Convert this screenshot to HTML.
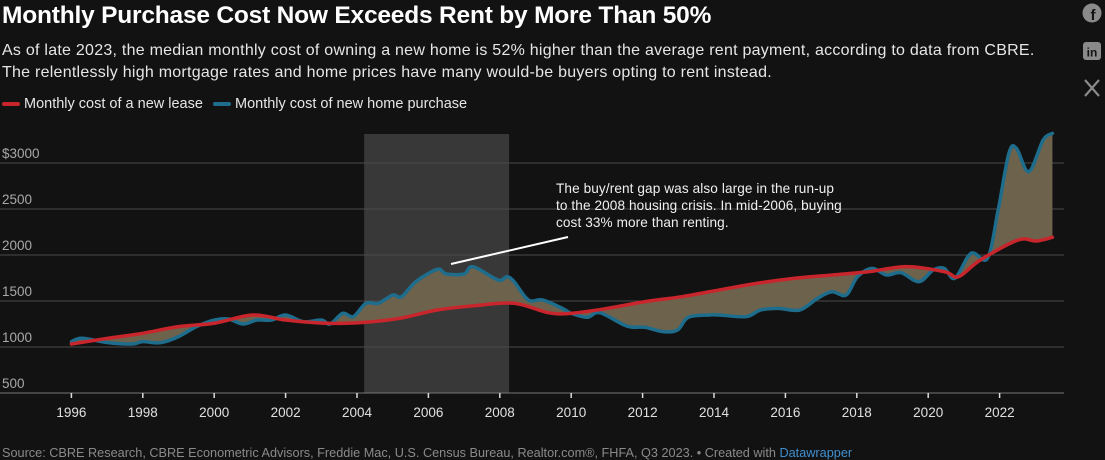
<!DOCTYPE html>
<html><head><meta charset="utf-8"><style>
body{margin:0;background:#121212;width:1105px;height:460px;overflow:hidden;font-family:"Liberation Sans",sans-serif;color:#fff;position:relative}
.t{position:absolute;white-space:nowrap}
</style></head><body>
<div class="t" style="left:2px;top:2px;font-size:24.5px;font-weight:bold;letter-spacing:-0.2px">Monthly Purchase Cost Now Exceeds Rent by More Than 50%</div>
<div class="t" style="left:2px;top:40px;font-size:16px;letter-spacing:0.25px;line-height:22px;color:#e6e6e6">As of late 2023, the median monthly cost of owning a new home is 52% higher than the average rent payment, according to data from CBRE.<br>The relentlessly high mortgage rates and home prices have many would-be buyers opting to rent instead.</div>
<div class="t" style="left:2px;top:96px;font-size:14.5px;color:#e6e6e6"><span style="display:inline-block;width:18px;height:4px;background:#c8262c;border-radius:2px;vertical-align:middle;margin-right:4px"></span>Monthly cost of a new lease</div>
<div class="t" style="left:213px;top:96px;font-size:14.5px;color:#e6e6e6"><span style="display:inline-block;width:18px;height:4px;background:#1f6d8c;border-radius:2px;vertical-align:middle;margin-right:4px"></span>Monthly cost of new home purchase</div>
<svg style="position:absolute;left:1082px;top:3px" width="20" height="20"><circle cx="10" cy="10" r="9.5" fill="#8a8a8a"/><text x="11" y="17" font-size="15" font-weight="bold" fill="#121212" text-anchor="middle" font-family="Liberation Sans">f</text></svg>
<svg style="position:absolute;left:1082px;top:41px" width="20" height="20"><rect x="1" y="1" width="18" height="18" rx="3" fill="#8a8a8a"/><text x="10" y="15.5" font-size="12" font-weight="bold" fill="#121212" text-anchor="middle" font-family="Liberation Sans">in</text></svg>
<svg style="position:absolute;left:1082px;top:78px" width="20" height="20"><path d="M3 2 L17 18 M17 2 L3 18" stroke="#8a8a8a" stroke-width="2.2"/></svg>
<svg id="chart" style="position:absolute;left:0;top:0" width="1105" height="460"></svg>
<div class="t" style="left:556px;top:180px;font-size:13.6px;letter-spacing:0.1px;line-height:17px;color:#f0f0f0">The buy/rent gap was also large in the run-up<br>to the 2008 housing crisis. In mid-2006, buying<br>cost 33% more than renting.</div>
<div class="t" style="left:2px;top:446px;font-size:12.7px;color:#8a8a8a">Source: CBRE Research, CBRE Econometric Advisors, Freddie Mac, U.S. Census Bureau, Realtor.com®, FHFA, Q3 2023. • Created with <span style="color:#3f8fd0">Datawrapper</span></div>
<script>
const yTicks=[500,1000,1500,2000,2500,3000];
const yTickLabels=["500","1000","1500","2000","2500","$3000"];
const xTicks=[1996,1998,2000,2002,2004,2006,2008,2010,2012,2014,2016,2018,2020,2022];
const leaseYears=[1996,1997.03,1998,1999,2000,2001.08,2002,2003.15,2004.19,2005.2,2006.25,2007.3,2008.4,2009.36,2010,2011.02,2012.07,2013.1,2014.15,2015.2,2016.27,2017.32,2018.35,2019.39,2020.45,2020.85,2021.46,2022.52,2023.02,2023.48];
const leaseValues=[1033,1095,1149,1221,1258,1348,1293,1258,1268,1312,1402,1449,1475,1373,1366,1420,1493,1547,1620,1692,1747,1783,1819,1873,1819,1764,1946,2163,2152,2192];
const buyYears=[1996,1996.3,1997.03,1997.7,1998,1998.5,1999,1999.5,2000,2000.4,2000.8,2001.2,2001.6,2002,2002.5,2003,2003.25,2003.6,2003.9,2004.25,2004.6,2005,2005.25,2005.65,2006.25,2006.5,2007,2007.25,2007.95,2008.2,2008.4,2008.8,2009.2,2009.75,2010,2010.45,2010.8,2011.56,2012.07,2012.57,2012.98,2013.28,2013.89,2014.15,2014.9,2015.3,2015.8,2016.4,2016.9,2017.3,2017.7,2018.02,2018.43,2018.83,2019.24,2019.74,2020.14,2020.45,2020.75,2021.2,2021.66,2021.96,2022.26,2022.47,2022.82,2023.22,2023.48];
const buyValues=[1058,1095,1047,1033,1058,1047,1113,1221,1293,1304,1250,1293,1293,1348,1275,1293,1250,1366,1330,1475,1475,1565,1547,1710,1844,1794,1794,1873,1728,1764,1710,1511,1511,1420,1366,1323,1373,1228,1214,1167,1185,1323,1348,1348,1330,1402,1420,1402,1529,1600,1565,1764,1855,1783,1808,1710,1837,1855,1747,2018,1964,2489,3105,3160,2906,3250,3322];
const shadeRange=[2004.2,2008.26];
const X=y=>71.4+(y-1996)*35.7;
const Y=v=>393-(v-500)/500*46;
const NS="http://www.w3.org/2000/svg";
const svg=document.getElementById('chart');
function mk(t,a){const e=document.createElementNS(NS,t);for(const k in a)e.setAttribute(k,a[k]);svg.appendChild(e);return e;}
function curve(xs,vs,rev){let p=xs.map((x,i)=>[X(x),Y(vs[i])]);if(rev)p=p.reverse();
 let d=(rev?'L':'M')+p[0][0]+','+p[0][1];
 for(let i=0;i<p.length-1;i++){const p0=p[i-1]||p[i],p1=p[i],p2=p[i+1],p3=p[i+2]||p2;
  d+=` C${p1[0]+(p2[0]-p0[0])/6},${p1[1]+(p2[1]-p0[1])/6} ${p2[0]-(p3[0]-p1[0])/6},${p2[1]-(p3[1]-p1[1])/6} ${p2[0]},${p2[1]}`;}
 return d;}
const sh=mk('rect',{x:X(shadeRange[0]),y:134,width:X(shadeRange[1])-X(shadeRange[0]),height:259,fill:'#383838'});


yTicks.forEach((v,i)=>{
 if(i>0){const g=mk('line',{x1:0,x2:1064,y1:Y(v),y2:Y(v),stroke:'#4a4a4a','stroke-width':1});
 
 }
 const t=mk('text',{x:2,y:Y(v)-5,fill:'#a8a8a8','font-size':13.5,'font-family':'Liberation Sans'});
 t.textContent=yTickLabels[i];
 
 
});
const ax=mk('line',{x1:0,x2:1064,y1:393,y2:393,stroke:'#777','stroke-width':1});


xTicks.forEach(yr=>{
 const tk=mk('line',{x1:X(yr),x2:X(yr),y1:393,y2:398,stroke:'#ddd','stroke-width':1.5});
 
 
 const t=mk('text',{x:X(yr),y:417,fill:'#e0e0e0','font-size':13.5,'text-anchor':'middle','font-family':'Liberation Sans'});
 t.textContent=yr;
 
 
});
const area=mk('path',{d:curve(buyYears,buyValues,false)+curve(leaseYears,leaseValues,true)+'Z',fill:'#6d624c'});


const bl=mk('path',{d:curve(buyYears,buyValues,false),fill:'none',stroke:'#1f6d8c','stroke-width':3.5,'stroke-linejoin':'round','stroke-linecap':'round'});


const rl=mk('path',{d:curve(leaseYears,leaseValues,false),fill:'none',stroke:'#c8262c','stroke-width':3.5,'stroke-linejoin':'round','stroke-linecap':'round'});


const an=mk('line',{x1:451,y1:264,x2:568,y2:237,stroke:'#fff','stroke-width':2});


</script>
</body></html>
